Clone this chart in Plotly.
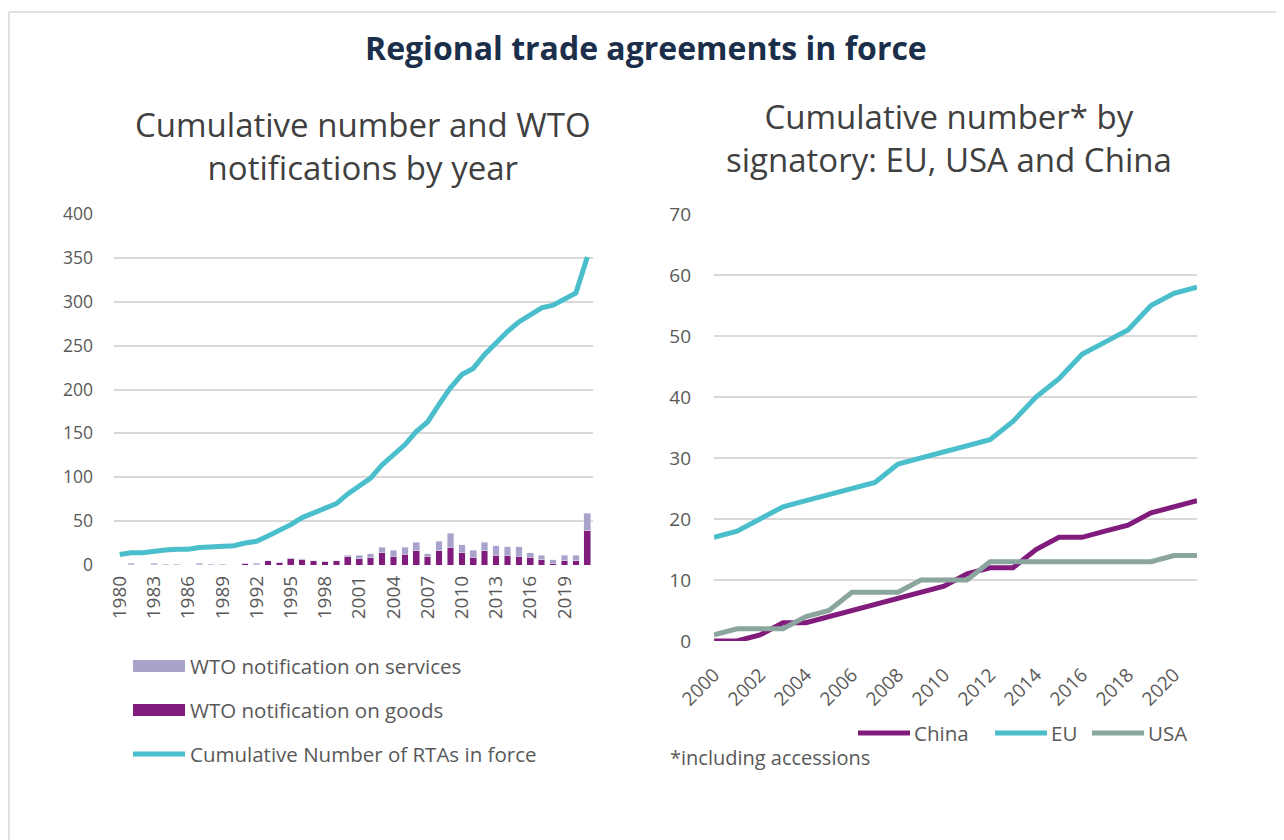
import plotly.graph_objects as go

# left chart: RTAs by year
years = [str(y) for y in range(1980, 2022)]
cumulative_rtas = [12, 14, 14, 16, 17, 18, 18, 20, 21, 22, 22, 25, 27, 33, 39, 46, 54, 59, 65, 70,
                   81, 90, 99, 114, 125, 137, 152, 163, 183, 202, 217, 224, 240, 254, 266, 277,
                   285, 293, 296, 303, 310, 351]
goods_notif = [0, 1, 0, 1, 0, 0, 0, 1, 0, 0, 0, 2, 1, 5, 3, 7, 6, 5, 4, 5,
               10, 7, 8, 14, 10, 12, 16, 10, 16, 20, 14, 9, 16, 11, 11, 10, 9, 6, 2, 5, 5, 39]
services_notif = [0, 1, 0, 1, 1, 1, 0, 1, 1, 1, 0, 0, 1, 0, 0, 1, 1, 0, 0, 0,
                  1, 4, 5, 6, 7, 8, 10, 3, 11, 16, 9, 8, 10, 11, 10, 11, 5, 5, 4, 6, 6, 20]
left_ticks = years[::3]

# right chart: by signatory
sig_years = [str(y) for y in range(2000, 2022)]
china = [0, 0, 1, 3, 3, 4, 5, 6, 7, 8, 9, 11, 12, 12, 15, 17, 17, 18, 19, 21, 22, 23]
eu = [17, 18, 20, 22, 23, 24, 25, 26, 29, 30, 31, 32, 33, 36, 40, 43, 47, 49, 51, 55, 57, 58]
usa = [1, 2, 2, 2, 4, 5, 8, 8, 8, 10, 10, 10, 13, 13, 13, 13, 13, 13, 13, 13, 14, 14]
right_ticks = sig_years[::2]

TEAL = '#4bbecb'
PURPLE = '#821c7c'
LAVENDER = '#a9a3cb'
SAGE = '#8aa49e'
GRID = '#d9d9d9'
TXT = '#595959'
FONT = 'Open Sans'

W, H = 1284, 840
OFF = 8  # page body margin
def px(x):
    return (x - OFF) / W
def py(y):
    return 1 - (y - OFF) / H

fig = go.Figure()
fig.add_trace(go.Bar(x=years, y=goods_notif, marker_color=PURPLE, name='WTO notification on goods',
                     xaxis='x', yaxis='y'))
fig.add_trace(go.Bar(x=years, y=services_notif, marker_color=LAVENDER, name='WTO notification on services',
                     xaxis='x', yaxis='y'))
fig.add_trace(go.Scatter(x=years, y=cumulative_rtas, mode='lines', line=dict(color=TEAL, width=5),
                         name='Cumulative Number of RTAs in force', xaxis='x', yaxis='y'))

for name, vals, col in [('China', china, PURPLE), ('EU', eu, TEAL), ('USA', usa, SAGE)]:
    fig.add_trace(go.Scatter(x=sig_years, y=vals, mode='lines', line=dict(color=col, width=5),
                             name=name, xaxis='x2', yaxis='y2'))

axis_font = dict(family=FONT, size=19, color=TXT)
fig.update_layout(
    width=W, height=H, margin=dict(l=0, r=0, t=0, b=0, autoexpand=False),
    paper_bgcolor='white', plot_bgcolor='white',
    barmode='stack', bargap=0.42, showlegend=False,
    font=dict(family=FONT, color=TXT),
    xaxis=dict(domain=[px(114), px(593)], anchor='y', type='category',
               tickvals=left_ticks, ticktext=left_ticks, tickangle=-90,
               tickfont=axis_font, showgrid=False, showline=False, ticks='', ticklabelstandoff=6),
    yaxis=dict(domain=[py(565), py(214)], anchor='x', range=[0, 400], dtick=50,
               gridcolor=GRID, gridwidth=1.5, zeroline=False, tickfont=dict(family=FONT, size=17.5, color=TXT),
               ticklabelstandoff=20),
    xaxis2=dict(domain=[px(714), px(1197)], anchor='y2', type='category',
                tickvals=right_ticks, ticktext=right_ticks, tickangle=-45,
                tickfont=axis_font, showgrid=False, showline=False, ticks='', ticklabelstandoff=18),
    yaxis2=dict(domain=[py(641), py(214)], anchor='x2', range=[0, 70], dtick=10,
                gridcolor=GRID, gridwidth=1.5, zeroline=False, tickfont=axis_font,
                ticklabelstandoff=22),
)

# outer frame (top and left edges)
fig.add_shape(type='line', xref='paper', yref='paper', x0=px(9), y0=py(12), x1=1, y1=py(12),
              line=dict(color=GRID, width=1.5))
fig.add_shape(type='line', xref='paper', yref='paper', x0=px(9), y0=py(12), x1=px(9), y1=0,
              line=dict(color=GRID, width=1.5))

def text(s, x, y, size, color=TXT, xanchor='center'):
    fig.add_annotation(text=s, xref='paper', yref='paper', x=px(x), y=py(y), showarrow=False,
                       xanchor=xanchor, yanchor='middle', align='center',
                       font=dict(family=FONT, size=size, color=color))

text('<b>Regional trade agreements in force</b>', 646, 47, 32, '#1b2f4b')
text('Cumulative number and WTO<br>notifications by year', 363, 146, 33, '#404040')
text('Cumulative number* by<br>signatory: EU, USA and China', 949, 138, 33, '#404040')
text('*including accessions', 668, 757, 20, xanchor='left')

# left legend (drawn)
left_legend = [('WTO notification on services', LAVENDER, 'bar', 666),
               ('WTO notification on goods', PURPLE, 'bar', 710),
               ('Cumulative Number of RTAs in force', TEAL, 'line', 754)]
for label, col, kind, yy in left_legend:
    if kind == 'bar':
        fig.add_shape(type='rect', xref='paper', yref='paper', x0=px(133), x1=px(185),
                      y0=py(yy - 6), y1=py(yy + 6), fillcolor=col, line=dict(width=0))
    else:
        fig.add_shape(type='line', xref='paper', yref='paper', x0=px(133), x1=px(185),
                      y0=py(yy), y1=py(yy), line=dict(color=col, width=5))
    text(label, 188, yy, 20.5, xanchor='left')

# right legend (drawn)
right_legend = [('China', PURPLE, 858), ('EU', TEAL, 995), ('USA', SAGE, 1092)]
for label, col, x0 in right_legend:
    fig.add_shape(type='line', xref='paper', yref='paper', x0=px(x0), x1=px(x0 + 52),
                  y0=py(733), y1=py(733), line=dict(color=col, width=5))
    text(label, x0 + 54, 733, 20.5, xanchor='left')

fig.write_html("out.html")
